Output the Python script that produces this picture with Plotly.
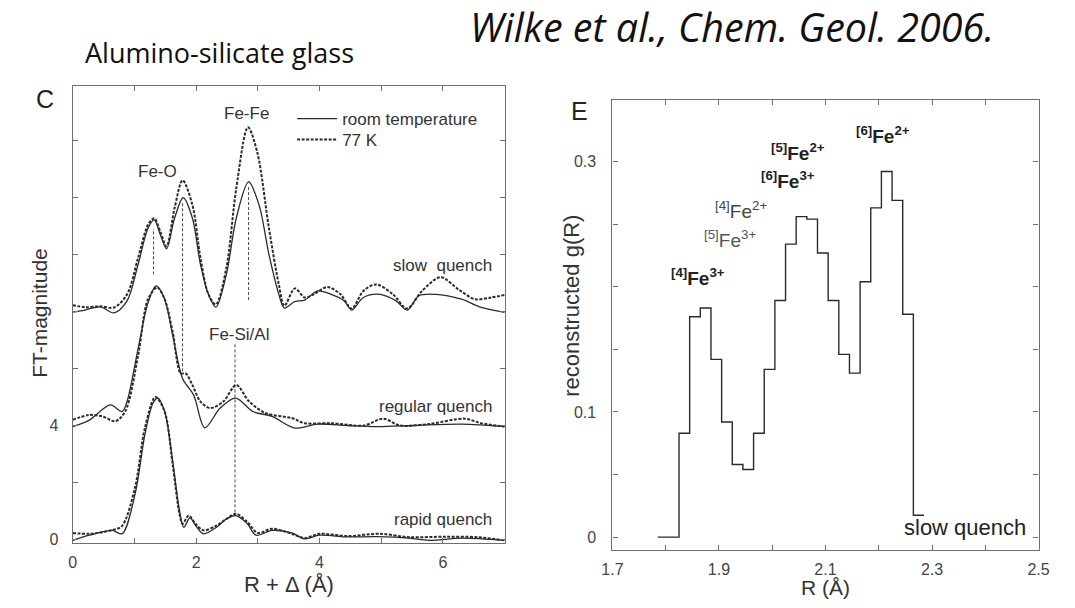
import plotly.graph_objects as go

W, H = 1075, 608

# ---------------- Panel C : FT magnitude (plotted values incl. offsets) ----------------
slow_rt_x = [0, 0.2, 0.45, 0.67, 0.88, 1.06, 1.22, 1.32, 1.42, 1.52, 1.65, 1.79, 1.94, 2.07, 2.2, 2.32, 2.49,
             2.65, 2.85, 3.02, 3.18, 3.34, 3.43, 3.6, 3.76, 3.97, 4.19, 4.4, 4.52, 4.71, 4.98, 5.24, 5.42,
             5.61, 5.88, 6.3, 6.62, 7.0]
slow_rt_y = [7.98, 8.05, 8.16, 7.95, 8.37, 9.65, 10.92, 11.21, 10.69, 10.2, 11.27, 11.99, 11.27, 9.65, 8.6,
             8.15, 9.3, 11.27, 12.55, 11.73, 10.0, 8.6, 8.12, 8.35, 8.4, 8.72, 8.6, 8.37, 8.05, 8.49, 8.6,
             8.37, 8.05, 8.55, 8.6, 8.43, 8.14, 7.97]

slow_lt_x = [0, 0.2, 0.45, 0.67, 0.88, 1.06, 1.22, 1.32, 1.42, 1.52, 1.65, 1.78, 1.94, 2.07, 2.2, 2.32, 2.49,
             2.65, 2.84, 2.99, 3.18, 3.34, 3.43, 3.6, 3.76, 3.92, 4.13, 4.34, 4.52, 4.71, 4.92, 5.19, 5.42,
             5.66, 5.96, 6.26, 6.52, 6.78, 7.0]
slow_lt_y = [8.22, 8.15, 8.18, 8.14, 8.6, 9.88, 11.04, 11.27, 10.8, 10.28, 11.62, 12.6, 11.73, 9.88, 8.6,
             8.25, 9.53, 12.31, 14.46, 13.59, 10.92, 8.95, 8.2, 8.81, 8.49, 8.62, 8.86, 8.6, 8.1, 8.72, 8.95,
             8.6, 8.1, 8.72, 9.2, 8.76, 8.43, 8.49, 8.58]

reg_rt_x = [0, 0.27, 0.61, 0.8, 0.88, 1.06, 1.22, 1.35, 1.49, 1.62, 1.78, 1.96, 2.14, 2.39, 2.64, 2.92, 3.23,
            3.6, 3.97, 4.45, 4.93, 5.52, 6.3, 7.0]
reg_rt_y = [3.96, 4.19, 4.72, 4.49, 4.84, 6.7, 8.3, 8.9, 8.43, 7.16, 5.65, 5.07, 3.92, 4.61, 4.96, 4.49, 4.32,
            3.91, 4.05, 4.0, 3.96, 4.0, 4.05, 3.96]

reg_lt_x = [0, 0.27, 0.48, 0.69, 0.85, 1.06, 1.22, 1.37, 1.49, 1.62, 1.75, 1.83, 1.94, 2.07, 2.23, 2.44, 2.65,
            2.86, 3.13, 3.55, 3.76, 4.19, 4.72, 5.03, 5.3, 5.77, 6.35, 6.62, 7.0]
reg_lt_y = [4.2, 4.37, 4.32, 4.15, 4.49, 6.46, 8.43, 8.84, 8.43, 7.28, 5.83, 5.83, 5.42, 4.84, 4.61, 4.84, 5.42,
            4.84, 4.43, 4.26, 4.08, 4.08, 4.0, 4.24, 4.0, 4.05, 4.24, 4.08, 3.96]

rap_rt_x = [0, 0.27, 0.64, 0.8, 1.01, 1.17, 1.3, 1.38, 1.49, 1.62, 1.73, 1.8, 1.9, 1.99, 2.12, 2.33, 2.49, 2.65,
            2.83, 2.97, 3.23, 3.55, 3.76, 4.0, 4.45, 4.92, 5.45, 5.77, 6.3, 7.0]
rap_rt_y = [-0.03, 0.15, 0.32, 0.2, 1.59, 3.68, 4.78, 4.96, 4.49, 2.75, 1.02, 0.43, 0.76, 0.5, 0.2, 0.43, 0.72,
            0.84, 0.55, 0.15, 0.32, 0.23, 0.02, 0.15, 0.09, 0.1, 0.05, -0.03, 0.05, -0.03]

rap_lt_x = [0, 0.27, 0.64, 0.8, 1.01, 1.17, 1.34, 1.49, 1.62, 1.73, 1.78, 1.88, 1.99, 2.12, 2.33, 2.49, 2.65,
            2.83, 3.0, 3.23, 3.55, 3.76, 4.0, 4.45, 4.98, 5.45, 6.04, 6.56, 7.0]
rap_lt_y = [0.23, 0.2, 0.33, 0.48, 1.83, 3.91, 5.0, 4.49, 2.63, 0.9, 0.55, 0.84, 0.55, 0.32, 0.49, 0.72, 0.9,
            0.61, 0.23, 0.38, 0.2, 0.05, 0.2, 0.12, 0.2, 0.08, 0.1, 0.08, -0.03]

# vertical guide lines (peak positions)
guide_x = [1.31, 1.78, 2.85, 2.63]
guide_lo = [9.3, 5.9, 8.4, 0.95]
guide_hi = [10.9, 11.8, 12.4, 6.85]

c_xticks = [0, 1, 2, 3, 4, 5, 6, 7]
c_xlabels = ["0", "", "2", "", "4", "", "6", ""]
c_yticks = [0, 2, 4, 6, 8, 10, 12, 14]
c_ylabels = ["0", "", "4", "", "", "", "", ""]

# ---------------- Panel E : reconstructed g(R) histogram ----------------
r_centers = [1.795, 1.815, 1.835, 1.855, 1.875, 1.895, 1.915, 1.935, 1.955, 1.975, 1.995, 2.015, 2.035,
             2.055, 2.075, 2.095, 2.115, 2.135, 2.155, 2.175, 2.195, 2.215, 2.235, 2.255, 2.275]
g_values = [0.0, 0.0, 0.083, 0.176, 0.183, 0.142, 0.092, 0.058, 0.054, 0.083, 0.134, 0.189, 0.234,
            0.256, 0.254, 0.227, 0.189, 0.146, 0.131, 0.204, 0.263, 0.292, 0.269, 0.178, 0.0175]
bin_width = 0.02

e_xticks = [1.7, 1.8, 1.9, 2.0, 2.1, 2.2, 2.3, 2.4, 2.5]
e_xlabels = ["1.7", "", "1.9", "", "2.1", "", "2.3", "", "2.5"]
e_yticks = [0, 0.05, 0.1, 0.15, 0.2, 0.25, 0.3]
e_ylabels = ["0", "", "0.1", "", "", "", "0.3"]

# ---------------- figure ----------------
LINE = "#2a2a2a"
AX = "#6e6e6e"
TXT = "#333333"
FONT = "Liberation Sans"
HEAD = "Open Sans"

fig = go.Figure()


def curve(x, y, cold, show):
    fig.add_trace(go.Scatter(
        x=x, y=y, mode="lines",
        name="77 K" if cold else "room temperature",
        legend="legend2" if cold else "legend",
        legendgroup="lt" if cold else "rt", showlegend=show,
        line=dict(color=LINE, width=2.0 if cold else 1.3,
                  dash="3px,1.5px" if cold else "solid", shape="spline", smoothing=0.9),
        xaxis="x", yaxis="y", hoverinfo="skip"))


curve(slow_rt_x, slow_rt_y, False, True)
curve(slow_lt_x, slow_lt_y, True, True)
curve(reg_rt_x, reg_rt_y, False, False)
curve(reg_lt_x, reg_lt_y, True, False)
curve(rap_rt_x, rap_rt_y, False, False)
curve(rap_lt_x, rap_lt_y, True, False)

for gx, lo, hi in zip(guide_x, guide_lo, guide_hi):
    fig.add_trace(go.Scatter(x=[gx, gx], y=[lo, hi], mode="lines", showlegend=False,
                             line=dict(color="#444", width=1, dash="3px,2px"),
                             xaxis="x", yaxis="y", hoverinfo="skip"))

# histogram outline
edges = [c - bin_width / 2 for c in r_centers] + [r_centers[-1] + bin_width / 2]
fig.add_trace(go.Scatter(x=edges, y=g_values + [g_values[-1]], mode="lines", showlegend=False,
                         line=dict(color=LINE, width=1.4, shape="hv"),
                         xaxis="x2", yaxis="y2", hoverinfo="skip"))


def px(x):
    return x / W


def py(y):
    return 1 - y / H


axis_common = dict(showline=True, linecolor=AX, linewidth=1.2, mirror="ticks", ticks="inside",
                   ticklen=5, tickwidth=1, tickcolor=AX, showgrid=False, zeroline=False,
                   tickfont=dict(family=FONT, size=16, color="#444"))

legend_common = dict(xanchor="left", yanchor="middle", bgcolor="rgba(0,0,0,0)",
                     font=dict(family=FONT, size=17, color=TXT), itemwidth=40)

fig.update_layout(
    width=W, height=H, margin=dict(l=0, r=0, t=0, b=0),
    paper_bgcolor="white", plot_bgcolor="white",
    xaxis=dict(domain=[px(63), px(504)], range=[0, 7], tickmode="array", ticklabelstandoff=4,
               tickvals=c_xticks, ticktext=c_xlabels, anchor="y", **axis_common),
    yaxis=dict(domain=[py(548), py(87)], range=[-0.14, 15.9], tickmode="array", ticklabelstandoff=10,
               tickvals=c_yticks, ticktext=c_ylabels, anchor="x", **axis_common),
    xaxis2=dict(domain=[px(614), px(1049)], range=[1.7, 2.5], tickmode="array", ticklabelstandoff=4,
                tickvals=e_xticks, ticktext=e_xlabels, anchor="y2", **axis_common),
    yaxis2=dict(domain=[py(555), py(101)], range=[-0.0106, 0.349], tickmode="array", ticklabelstandoff=12,
                tickvals=e_yticks, ticktext=e_ylabels, anchor="x2", **axis_common),
    legend=dict(x=px(287), y=py(120), **legend_common),
    legend2=dict(x=px(287), y=py(141), **legend_common),
    showlegend=True,
)

ann = []


def text(x, y, s, size=14, xref="paper", yref="paper", xanchor="center", color=TXT, angle=0, family=FONT):
    ann.append(dict(x=x, y=y, xref=xref, yref=yref, text=s, showarrow=False, xanchor=xanchor,
                    yanchor="middle", textangle=angle, font=dict(family=family, size=size, color=color)))


# headings
text(px(74), py(53), "Alumino-silicate glass", size=27, xanchor="left", color="#111", family=HEAD)
text(px(467), py(27), "<i>Wilke et al., Chem. Geol. 2006.</i>", size=39.5, xanchor="left", color="#111",
     family=HEAD)

# panel letters
text(px(35), py(100), "C", size=25, color="#222")
text(px(580), py(112), "E", size=25, color="#222")

# axis titles
text(px(29), py(315), "FT-magnitude", size=21, angle=-90)
text(px(284), py(589), "R + \u0394 (\u00c5)", size=22)
text(px(572), py(308), "reconstructed g(R)", size=22, angle=-90)
text(px(832), py(592), "R (\u00c5)", size=21)

# panel C labels
text(2.81, 14.95, "Fe-Fe", size=17, xref="x", yref="y")
text(1.38, 12.9, "Fe-O", size=17, xref="x", yref="y")
text(2.69, 7.2, "Fe-Si/Al", size=17, xref="x", yref="y")
text(6.83, 9.6, "slow  quench", size=17, xref="x", yref="y", xanchor="right")
text(6.83, 4.68, "regular quench", size=17, xref="x", yref="y", xanchor="right")
text(6.83, 0.7, "rapid quench", size=17, xref="x", yref="y", xanchor="right")

# panel E labels
text(1.86, 0.208, "<b><sup>[4]</sup>Fe<sup>3+</sup></b>", size=19, xref="x2", yref="y2", color="#222")
text(1.921, 0.238, "<sup>[5]</sup>Fe<sup>3+</sup>", size=19, xref="x2", yref="y2", color="#555")
text(1.941, 0.261, "<sup>[4]</sup>Fe<sup>2+</sup>", size=19, xref="x2", yref="y2", color="#444")
text(2.03, 0.285, "<b><sup>[6]</sup>Fe<sup>3+</sup></b>", size=19, xref="x2", yref="y2", color="#222")
text(2.049, 0.308, "<b><sup>[5]</sup>Fe<sup>2+</sup></b>", size=19, xref="x2", yref="y2", color="#222")
text(2.208, 0.321, "<b><sup>[6]</sup>Fe<sup>2+</sup></b>", size=19, xref="x2", yref="y2", color="#222")
text(2.48, 0.008, "slow quench", size=22, xref="x2", yref="y2", xanchor="right", color="#222")

fig.update_layout(annotations=ann)
fig.write_html("out.html")
